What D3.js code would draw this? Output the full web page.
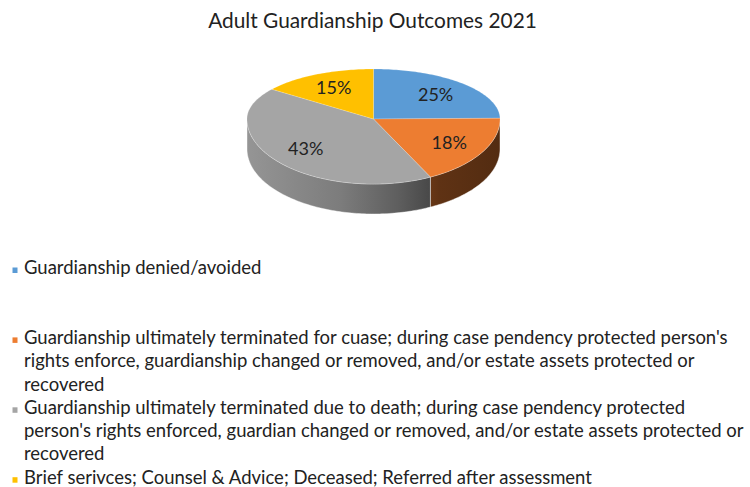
<!DOCTYPE html>
<html>
<head>
<meta charset="utf-8">
<script src="https://cdn.jsdelivr.net/npm/d3@7"></script>
<style>
    body { margin: 0; background: #ffffff; }
    svg  { display: block; font-family: Lato, "Open Sans", sans-serif; }
</style>
</head>
<body>
<div id="chart"></div>
<script>
// Chart data
var title = "Adult Guardianship Outcomes 2021";

var categories = [
    ["Guardianship denied/avoided"],
    ["Guardianship ultimately terminated for cuase; during case pendency protected person's",
     "rights enforce, guardianship changed or removed, and/or estate assets protected or",
     "recovered"],
    ["Guardianship ultimately terminated due to death; during case pendency protected",
     "person's rights enforced, guardian changed or removed, and/or estate assets protected or",
     "recovered"],
    ["Brief serivces; Counsel & Advice; Deceased; Referred after assessment"]
];

var values  = [25, 18, 43, 15];
var colours = ["#5b9bd5", "#ed7d31", "#a5a5a5", "#ffc000"];

// Layout
var width = 750, height = 487;
var cx = 373.5, cy = 119;       // centre of the top face
var rx = 126.5;                 // horizontal radius
var ryT = 50, ryB = 65;         // back / front vertical radius (perspective)
var depth = 30;                 // thickness of the pie
var textColour = "#222222";

var svg = d3.select("#chart").append("svg")
    .attr("width", width)
    .attr("height", height);

/*
 * pt
 * Projects angle a (clockwise from 12 o'clock) on to the tilted rim,
 * shifted down by dy.
 */
function pt(a, dy) {
    var c = Math.cos(a);
    return [cx + rx * Math.sin(a), cy - (c > 0 ? ryT : ryB) * c + (dy || 0)];
}

function steps(a0, a1) {
    var n = Math.max(2, Math.ceil((a1 - a0) / 0.02));
    return d3.range(n + 1).map(function(i) { return a0 + (a1 - a0) * i / n; });
}

function facePath(d) {
    var p = d3.path();
    p.moveTo(cx, cy);
    steps(d.startAngle, d.endAngle).forEach(function(a) {
        var q = pt(a);
        p.lineTo(q[0], q[1]);
    });
    p.closePath();
    return p.toString();
}

// only the front half of the rim is visible
function sidePath(d) {
    var a0 = Math.max(d.startAngle, Math.PI / 2);
    var a1 = Math.min(d.endAngle, 3 * Math.PI / 2);
    if (a0 >= a1) return null;
    var p = d3.path();
    var top = steps(a0, a1);
    top.forEach(function(a, i) {
        var q = pt(a);
        if (i == 0) p.moveTo(q[0], q[1]); else p.lineTo(q[0], q[1]);
    });
    top.slice().reverse().forEach(function(a) {
        var q = pt(a, depth);
        p.lineTo(q[0], q[1]);
    });
    p.closePath();
    return p.toString();
}

var pie = d3.pie().sort(null).value(function(d) { return d; });
var arcs = pie(values);

// Shading gradients for the rim, darker towards the right
var shade = [[0, 0.9], [0.37, 0.75], [0.6, 0.57], [0.76, 0.4], [1, 0.35]];
var defs = svg.append("defs");
colours.forEach(function(c, i) {
    var rgb = d3.rgb(c);
    var g = defs.append("linearGradient")
        .attr("id", "side" + i)
        .attr("gradientUnits", "userSpaceOnUse")
        .attr("x1", cx - rx).attr("x2", cx + rx)
        .attr("y1", 0).attr("y2", 0);
    shade.forEach(function(s) {
        g.append("stop")
            .attr("offset", s[0])
            .attr("stop-color", d3.rgb(rgb.r * s[1], rgb.g * s[1], rgb.b * s[1]).formatHex());
    });
});

var pieG = svg.append("g");

pieG.selectAll("path.side")
    .data(arcs.filter(function(d) { return sidePath(d) != null; }))
    .enter().append("path")
    .attr("class", "side")
    .attr("d", sidePath)
    .attr("fill", function(d) { return "url(#side" + d.index + ")"; })
    .attr("stroke", "rgba(255,255,255,0.55)")
    .attr("stroke-width", 0.75);

pieG.selectAll("path.face")
    .data(arcs)
    .enter().append("path")
    .attr("class", "face")
    .attr("d", facePath)
    .attr("fill", function(d) { return colours[d.index]; })
    .attr("stroke", "rgba(255,255,255,0.35)")
    .attr("stroke-width", 0.5);

// Data labels
var labelK = 0.7;
pieG.selectAll("text.label")
    .data(arcs)
    .enter().append("text")
    .attr("class", "label")
    .attr("text-anchor", "middle")
    .attr("font-size", 18)
    .attr("fill", textColour)
    .attr("x", function(d) {
        var a = (d.startAngle + d.endAngle) / 2;
        return cx + rx * labelK * Math.sin(a);
    })
    .attr("y", function(d) {
        var a = (d.startAngle + d.endAngle) / 2;
        var c = Math.cos(a);
        return cy - (c > 0 ? ryT : ryB) * labelK * c + 6.5;
    })
    .text(function(d) { return d.data + "%"; });

// Title, sized to the width it has in the original
var titleText = svg.append("text")
    .attr("x", 372.5)
    .attr("y", 28)
    .attr("text-anchor", "middle")
    .attr("font-size", 20)
    .attr("fill", textColour)
    .text(title);
titleText.attr("font-size", 20 * 329 / titleText.node().getComputedTextLength());

// Legend
var legendTop = 274, lineH = 23.3, slotLines = 3;
var legend = svg.append("g");

var probe = legend.append("text").attr("font-size", 16).text(categories[1][0]);
var legendSize = 16 * 704 / probe.node().getComputedTextLength();
probe.remove();

categories.forEach(function(lines, i) {
    var base = legendTop + i * slotLines * lineH;
    legend.append("rect")
        .attr("x", 12.5)
        .attr("y", base - 6.5)
        .attr("width", 5)
        .attr("height", 5.5)
        .attr("fill", colours[i]);
    var t = legend.append("text")
        .attr("x", 24)
        .attr("y", base)
        .attr("font-size", legendSize)
        .attr("fill", textColour);
    lines.forEach(function(l, j) {
        t.append("tspan")
            .attr("x", 24)
            .attr("y", base + j * lineH)
            .text(l);
    });
});
</script>
</body>
</html>
